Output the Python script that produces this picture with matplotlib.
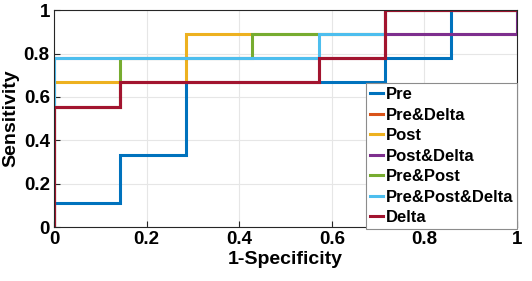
import matplotlib.pyplot as plt

plt.rcParams['font.family'] = ['Liberation Sans', 'DejaVu Sans']
plt.rcParams['font.weight'] = 'bold'

# ROC curves (1-specificity, sensitivity)
pre_x = [0, 0, 1/7, 1/7, 2/7, 2/7, 5/7, 5/7, 6/7, 6/7, 1]
pre_y = [0, 1/9, 1/9, 3/9, 3/9, 6/9, 6/9, 7/9, 7/9, 1, 1]

pre_delta_x = [0, 0, 1/7, 1/7, 4/7, 4/7, 5/7, 5/7, 1]
pre_delta_y = [0, 5/9, 5/9, 6/9, 6/9, 7/9, 7/9, 1, 1]

post_x = [0, 0, 2/7, 2/7, 1, 1]
post_y = [0, 6/9, 6/9, 8/9, 8/9, 1]

post_delta_x = [0, 0, 5/7, 5/7, 1, 1]
post_delta_y = [0, 7/9, 7/9, 8/9, 8/9, 1]

pre_post_x = [0, 0, 1/7, 1/7, 3/7, 3/7, 5/7, 5/7, 1]
pre_post_y = [0, 5/9, 5/9, 7/9, 7/9, 8/9, 8/9, 1, 1]

ppd_x = [0, 0, 4/7, 4/7, 5/7, 5/7, 1]
ppd_y = [0, 7/9, 7/9, 8/9, 8/9, 1, 1]

delta_x = [0, 0, 1/7, 1/7, 4/7, 4/7, 5/7, 5/7, 1]
delta_y = [0, 5/9, 5/9, 6/9, 6/9, 7/9, 7/9, 1, 1]

labels = ['Pre', 'Pre&Delta', 'Post', 'Post&Delta', 'Pre&Post', 'Pre&Post&Delta', 'Delta']
colors = ['#0072BD', '#D95319', '#EDB120', '#7E2F8E', '#77AC30', '#4DBEEE', '#A2142F']
curves = [(pre_x, pre_y), (pre_delta_x, pre_delta_y), (post_x, post_y),
          (post_delta_x, post_delta_y), (pre_post_x, pre_post_y),
          (ppd_x, ppd_y), (delta_x, delta_y)]

fig = plt.figure(figsize=(5.32, 2.81), dpi=100)
ax = fig.add_axes([0.1015, 0.192, 0.8705, 0.772])

for (xs, ys), lab, c in zip(curves, labels, colors):
    ax.plot(xs, ys, color=c, lw=2.2, label=lab, solid_joinstyle='miter')

ax.set_xlim(0, 1)
ax.set_ylim(0, 1)
ax.set_xticks([0, 0.2, 0.4, 0.6, 0.8, 1])
ax.set_xticklabels(['0', '0.2', '0.4', '0.6', '0.8', '1'])
ax.set_yticks([0, 0.2, 0.4, 0.6, 0.8, 1])
ax.set_yticklabels(['0', '0.2', '0.4', '0.6', '0.8', '1'])
ax.grid(True, color='#e6e6e6', lw=0.8)
ax.tick_params(direction='in', labelsize=13.5, length=4, color='#262626', pad=3)
for s in ax.spines.values():
    s.set_color('#262626')
    s.set_linewidth(0.8)
ax.set_xlabel('1-Specificity', fontsize=14, fontweight='bold', labelpad=2)
ax.set_ylabel('Sensitivity', fontsize=14, fontweight='bold', labelpad=3)

leg = ax.legend(loc='lower right', bbox_to_anchor=(1.0, -0.01), fontsize=12,
                handlelength=0.8, handletextpad=0.12, labelspacing=0.33,
                borderpad=0.25, borderaxespad=0, fancybox=False, framealpha=1,
                edgecolor='#8c8c8c')
leg.get_frame().set_linewidth(0.8)

fig.savefig('out.png', dpi=100)
